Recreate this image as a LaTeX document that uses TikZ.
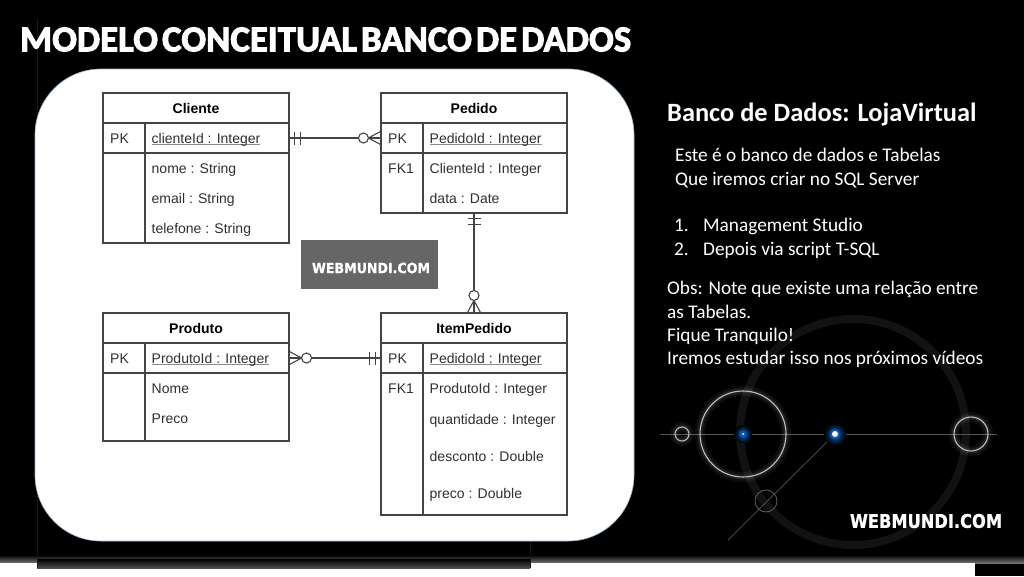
\documentclass[tikz,border=0pt]{standalone}
\usepackage{fontspec}
\usepackage{xcolor}
\setmainfont{Carlito}
\newfontfamily\fonteTabela{Liberation Sans}
\newfontfamily\fonteTitulo[FakeBold=3,WordSpace=0.5,LetterSpace=0.5]{Carlito Bold}
\newfontfamily\fonteMarca[FakeBold=1]{DejaVu Sans Bold}
\definecolor{linhaTabela}{HTML}{444444}
\definecolor{textoTabela}{HTML}{303030}
\definecolor{azulBrilho}{HTML}{0F5FC0}
\definecolor{bordaPainel}{HTML}{9DB7CF}

\newcommand{\chave}[1]{\setbox0\hbox{#1}\rlap{\textcolor{black!45}{\rule[-2.4pt]{\wd0}{1pt}}}\box0}

\tikzset{
  caixa/.style={draw=linhaTabela, line width=1.1pt, fill=white, inner sep=0pt},
  titulo/.style={font=\fonteTabela\bfseries\fontsize{14}{14}\selectfont, text=black},
  campo/.style={anchor=base west, yshift=-5pt, inner sep=0pt, text=textoTabela, font=\fonteTabela\fontsize{14}{14}\selectfont},
  lateral/.style={anchor=base west, yshift=-6pt, inner sep=0pt, text=white, font=\fontsize{19.3}{19.3}\selectfont},
  ligacao/.style={draw=linhaTabela, line width=1.1pt},
  umUm/.pic={
    \draw[ligacao] (5,-6.5) -- (5,6.5);
    \draw[ligacao] (11,-6.5) -- (11,6.5);
  },
  zeroMuitos/.pic={
    \draw[ligacao] (0,-6.5) -- (12,0) -- (0,6.5);
    \draw[ligacao] (0,0) -- (12,0);
    \draw[ligacao, fill=white] (17,0) circle (5);
  }
}
\newcommand{\anel}[4]{% centro x, centro y, raio, cor
  \draw[white, opacity=0.05, line width=10pt] (#1,#2) circle (#3);
  \draw[white, opacity=0.08, line width=5pt] (#1,#2) circle (#3);
  \draw[#4, line width=1.1pt] (#1,#2) circle (#3);
}

\begin{document}
\begin{tikzpicture}[x=1pt,y=-1pt]

\useasboundingbox (0,0) rectangle (1024,576);

% Fundo e faixas inferiores
\fill[black] (0,0) rectangle (1024,576);
\shade[top color=black, bottom color=black!55] (0,555) rectangle (1024,563);
\fill[white] (0,563) rectangle (975,576);
\shade[top color=black, bottom color=black!70] (37,559) rectangle (530,568);
\draw[white!9!black, line width=0.5pt] (37,18) -- (37,568);
\draw[white!9!black, line width=0.5pt] (530,541) -- (530,568);

% Painel branco
\draw[draw=bordaPainel, line width=0.6pt, fill=white, rounded corners=66pt] (35,69) rectangle (634,541);

% Titulo
\node (tituloPagina) at (20,39.5) [anchor=west, inner sep=0pt, text=white, font=\fonteTitulo\fontsize{36.5}{36.5}\selectfont] {MODELO CONCEITUAL BANCO DE DADOS};

% Tabela Cliente
\node (clienteTopo) at (196,108) [caixa, minimum width=186pt, minimum height=30pt, titulo] {Cliente};
\node (clientePK) at (196,138) [caixa, minimum width=186pt, minimum height=30pt] {};
\node (clienteResto) at (196,198) [caixa, minimum width=186pt, minimum height=90pt] {};
\draw[ligacao] (145,123) -- (145,243);
\node (clienteRotulo) at (110,138) [campo] {PK};
\node (clienteId) at (151.5,138) [campo] {\chave{clienteId : Integer}};
\node (clienteNome) at (151.5,168) [campo] {nome : String};
\node (clienteEmail) at (151.5,198) [campo] {email : String};
\node (clienteFone) at (151.5,228) [campo] {telefone : String};

% Tabela Pedido
\node (pedidoTopo) at (474,108) [caixa, minimum width=186pt, minimum height=30pt, titulo] {Pedido};
\node (pedidoPK) at (474,138) [caixa, minimum width=186pt, minimum height=30pt] {};
\node (pedidoResto) at (474,183) [caixa, minimum width=186pt, minimum height=60pt] {};
\draw[ligacao] (423,123) -- (423,213);
\node (pedidoRotulo) at (388,138) [campo] {PK};
\node (pedidoId) at (429.5,138) [campo] {\chave{PedidoId : Integer}};
\node (pedidoRotuloFK) at (388,168) [campo] {FK1};
\node (pedidoCliente) at (429.5,168) [campo] {ClienteId : Integer};
\node (pedidoData) at (429.5,198) [campo] {data : Date};

% Tabela Produto
\node (produtoTopo) at (196,328) [caixa, minimum width=186pt, minimum height=30pt, titulo] {Produto};
\node (produtoPK) at (196,358) [caixa, minimum width=186pt, minimum height=30pt] {};
\node (produtoResto) at (196,407) [caixa, minimum width=186pt, minimum height=68pt] {};
\draw[ligacao] (145,343) -- (145,441);
\node (produtoRotulo) at (110,358) [campo] {PK};
\node (produtoId) at (151.5,358) [campo] {\chave{ProdutoId : Integer}};
\node (produtoNome) at (151.5,388) [campo] {Nome};
\node (produtoPreco) at (151.5,418) [campo] {Preco};

% Tabela ItemPedido
\node (itemTopo) at (474,328) [caixa, minimum width=186pt, minimum height=30pt, titulo] {ItemPedido};
\node (itemPK) at (474,358) [caixa, minimum width=186pt, minimum height=30pt] {};
\node (itemResto) at (474,444) [caixa, minimum width=186pt, minimum height=142pt] {};
\draw[ligacao] (423,343) -- (423,515);
\node (itemRotulo) at (388,358) [campo] {PK};
\node (itemId) at (429.5,358) [campo] {\chave{PedidoId : Integer}};
\node (itemRotuloFK) at (388,388) [campo] {FK1};
\node (itemProduto) at (429.5,388) [campo] {ProdutoId : Integer};
\node (itemQtd) at (429.5,419) [campo] {quantidade : Integer};
\node (itemDesconto) at (429.5,456) [campo] {desconto : Double};
\node (itemPreco) at (429.5,493) [campo] {preco : Double};

% Ligacoes entre as tabelas
\draw[ligacao] (clientePK.east) -- (pedidoPK.west);
\pic at (clientePK.east) {umUm};
\pic[rotate=180] at (pedidoPK.west) {zeroMuitos};

\draw[ligacao] (pedidoResto.south) -- (itemTopo.north);
\pic[rotate=-90] at (pedidoResto.south) {umUm};
\pic[rotate=90] at (itemTopo.north) {zeroMuitos};

\draw[ligacao] (produtoPK.east) -- (itemPK.west);
\pic at (produtoPK.east) {zeroMuitos};
\pic[rotate=180] at (itemPK.west) {umUm};

% Marca no centro do painel
\node (marcaCaixa) at (369.5,264.5) [fill=black!60, minimum width=137pt, minimum height=49pt, inner sep=0pt] {};
\node (marcaPainel) at (371,268) [inner sep=0pt, text=white] {\resizebox{118pt}{10.5pt}{\fonteMarca WEBMUNDI.COM}};

% Ornamento: anel grande e orbitas
\draw[white!7!black, line width=8pt] (853,432) circle (113);
\draw[white!33!black, line width=1pt] (660,434) -- (997,434);
\draw[white!33!black, line width=0.7pt] (835,434) -- (728,540);
\draw[white!38!black, line width=0.8pt] (766,501) circle (11);
\anel{682}{434}{7}{white!72!black}
\anel{743}{434}{43}{white!75!black}
\anel{971}{434}{17}{white!75!black}
\shade[inner color=azulBrilho, outer color=black] (743,434) circle (9);
\fill[azulBrilho, opacity=0.6] (743,434) circle (4);
\fill[white] (743,434) circle (1);
\shade[inner color=azulBrilho, outer color=black] (835,434) circle (11);
\fill[azulBrilho, opacity=0.7] (835,434) circle (5.5);
\fill[white] (835,434) circle (3);

% Texto lateral
\node (bancoTitulo) at (667,113) [lateral, yshift=-2.5pt, font=\bfseries\fontsize{26.4}{26.4}\selectfont] {Banco de Dados: LojaVirtual};
\node (linhaUm) at (675,155) [lateral] {Este é o banco de dados e Tabelas};
\node (linhaDois) at (675,179) [lateral] {Que iremos criar no SQL Server};
\node (numUm) at (674,225) [lateral] {1.};
\node (itemUm) at (703,225) [lateral] {Management Studio};
\node (numDois) at (674,249) [lateral] {2.};
\node (itemDois) at (703,249) [lateral] {Depois via script T-SQL};
\node (obsUm) at (667,288) [lateral] {Obs: Note que existe uma relação entre};
\node (obsDois) at (667,312) [lateral] {as Tabelas.};
\node (obsTres) at (667,335) [lateral] {Fique Tranquilo!};
\node (obsQuatro) at (667,358) [lateral] {Iremos estudar isso nos próximos vídeos};

% Marca no canto
\node (marcaCanto) at (926,521) [inner sep=0pt, text=white] {\resizebox{152pt}{14pt}{\fonteMarca WEBMUNDI.COM}};

\end{tikzpicture}
\end{document}
